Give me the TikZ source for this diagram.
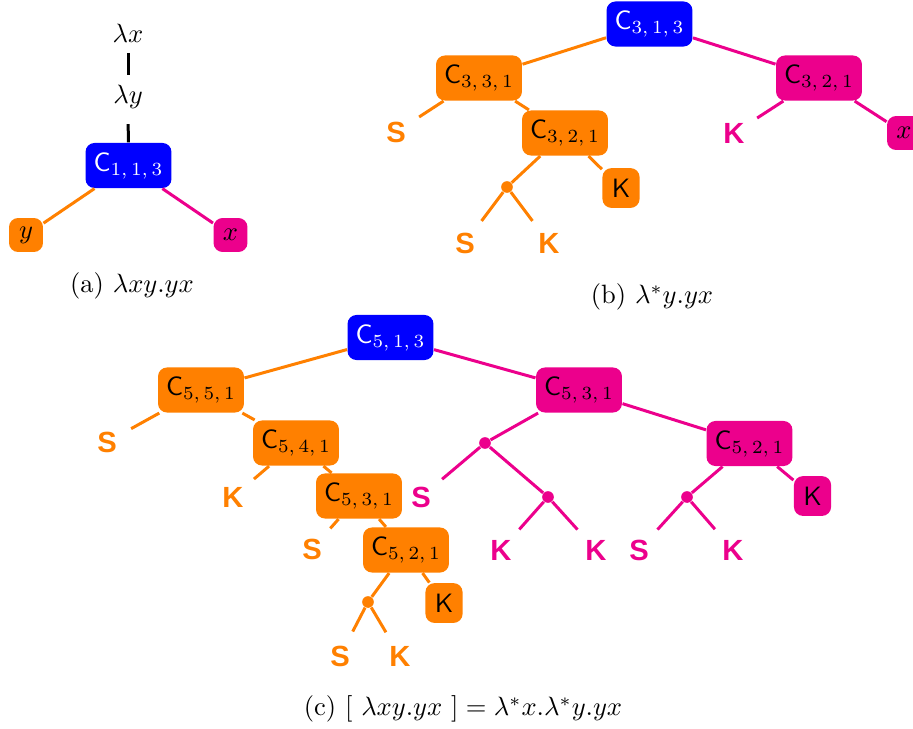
\documentclass[tikz,border=0pt]{standalone}
\usepackage{amsmath}
\usepackage{fontspec}
\newfontfamily\labfont{Liberation Sans}
\definecolor{cblue}{RGB}{0,0,255}
\definecolor{corange}{RGB}{255,128,0}
\definecolor{cmag}{RGB}{236,0,140}
\tikzset{
 cbox/.style={rounded corners=3.4pt, minimum width=32.4pt, minimum height=17pt, inner sep=0pt},
 bluebox/.style={cbox, fill=cblue, text=white},
 obox/.style={cbox, fill=corange},
 mbox/.style={cbox, fill=cmag},
 leafbox/.style={rounded corners=3.4pt, minimum width=12.8pt, minimum height=12.8pt, inner sep=0pt},
 kbox/.style={rounded corners=3.4pt, minimum width=14pt, minimum height=15pt, inner sep=0pt, font=\sffamily},
 lab/.style={circle, minimum size=20.4pt, inner sep=0pt, font=\labfont\bfseries\fontsize{11}{13}\selectfont},
 jdot/.style={circle, fill, minimum size=4.4pt, inner sep=0pt},
 oe/.style={draw=corange, line width=1.13pt},
 me/.style={draw=cmag, line width=1.13pt},
 be/.style={draw=black, line width=1.13pt},
 lamnode/.style={inner sep=3.8pt},
}
\newcommand{\Cn}[1]{\textsf{C}$_{#1}$}
\begin{document}
\begin{tikzpicture}[x=0.377pt, y=-0.377pt]
\useasboundingbox (0,0) rectangle (913,728);
% ---------- panel (a)
\node[lamnode] (lx) at (128,33) {$\lambda x$};
\node[lamnode] (ly) at (128,97) {$\lambda y$};
\node[bluebox] (a0) at (128.5,165.5) {\Cn{1,\,1,\,3}};
\node[leafbox, fill=corange] (ay) at (26,235) {$y$};
\node[leafbox, fill=cmag] (ax) at (230.5,235) {$x$};
\draw[be] (lx) -- (ly);
\draw[be, shorten <=1.8pt] (ly) -- (a0);
\draw[oe] (a0) -- (ay);
\draw[me] (a0) -- (ax);
\node (capa) at (132,286) {(a) $\lambda xy.yx$};
% ---------- panel (b)
\node[bluebox] (b0) at (649.5,24) {\Cn{3,\,1,\,3}};
\node[obox] (b1) at (479,78) {\Cn{3,\,3,\,1}};
\node[mbox] (b2) at (819,78) {\Cn{3,\,2,\,1}};
\node[lab, text=corange] (bS) at (396,132) {S};
\node[obox] (b3) at (565,133) {\Cn{3,\,2,\,1}};
\node[kbox, fill=corange] (bK) at (621,188) {K};
\node[jdot, fill=corange] (bd) at (507,187) {};
\node[lab, text=corange] (bS2) at (465,243) {S};
\node[lab, text=corange] (bK2) at (549,243) {K};
\node[lab, text=cmag] (bK3) at (734,133) {K};
\node[leafbox, fill=cmag] (bx) at (904,133) {$x$};
\draw[oe] (b0) -- (b1);
\draw[me] (b0) -- (b2);
\draw[oe] (b1) -- (bS);
\draw[oe] (b1) -- (b3);
\draw[oe] (b3) -- (bK);
\draw[oe] (b3) -- (bd);
\draw[oe] (bd) -- (bS2);
\draw[oe] (bd) -- (bK2);
\draw[me] (b2) -- (bK3);
\draw[me] (b2) -- (bx);
\node (capb) at (652,297) {(b) $\lambda^{*}y.yx$};
% ---------- panel (c)
\node[bluebox] (c0) at (390.5,337.5) {\Cn{5,\,1,\,3}};
\node[obox] (c1) at (201,390) {\Cn{5,\,5,\,1}};
\node[lab, text=corange] (cS1) at (107,442) {S};
\node[obox] (c2) at (296,443) {\Cn{5,\,4,\,1}};
\node[lab, text=corange] (cK1) at (233,497) {K};
\node[obox] (c3) at (359,496) {\Cn{5,\,3,\,1}};
\node[lab, text=corange] (cS2) at (312,549) {S};
\node[obox] (c4) at (406,550) {\Cn{5,\,2,\,1}};
\node[kbox, fill=corange] (cK2) at (444,603) {K};
\node[jdot, fill=corange] (cd1) at (368,602) {};
\node[lab, text=corange] (cS3) at (340,656) {S};
\node[lab, text=corange] (cK3) at (400,656) {K};
\node[mbox] (m1) at (579,390) {\Cn{5,\,3,\,1}};
\node[jdot, fill=cmag] (md1) at (485,443) {};
\node[lab, text=cmag] (mS1) at (421,497) {S};
\node[jdot, fill=cmag] (md2) at (548,497) {};
\node[lab, text=cmag] (mK1) at (501,550) {K};
\node[lab, text=cmag] (mK2) at (596,550) {K};
\node[mbox] (m2) at (749.5,443.5) {\Cn{5,\,2,\,1}};
\node[jdot, fill=cmag] (md3) at (687,497) {};
\node[lab, text=cmag] (mS2) at (639,550) {S};
\node[lab, text=cmag] (mK3) at (733,550) {K};
\node[kbox, fill=cmag] (mK4) at (812.5,496) {K};
\draw[oe] (c0) -- (c1);
\draw[oe] (c1) -- (cS1);
\draw[oe] (c1) -- (c2);
\draw[oe] (c2) -- (cK1);
\draw[oe] (c2) -- (c3);
\draw[oe] (c3) -- (cS2);
\draw[oe] (c3) -- (c4);
\draw[oe] (c4) -- (cK2);
\draw[oe] (c4) -- (cd1);
\draw[oe] (cd1) -- (cS3);
\draw[oe] (cd1) -- (cK3);
\draw[me] (c0) -- (m1);
\draw[me] (m1) -- (md1);
\draw[me] (md1) -- (mS1);
\draw[me] (md1) -- (md2);
\draw[me] (md2) -- (mK1);
\draw[me] (md2) -- (mK2);
\draw[me] (m1) -- (m2);
\draw[me] (m2) -- (md3);
\draw[me] (md3) -- (mS2);
\draw[me] (md3) -- (mK3);
\draw[me] (m2) -- (mK4);
\node (capc) at (463,709) {(c) $[\ \lambda xy.yx\ ] = \lambda^{*}x.\lambda^{*}y.yx$};
\end{tikzpicture}
\end{document}
